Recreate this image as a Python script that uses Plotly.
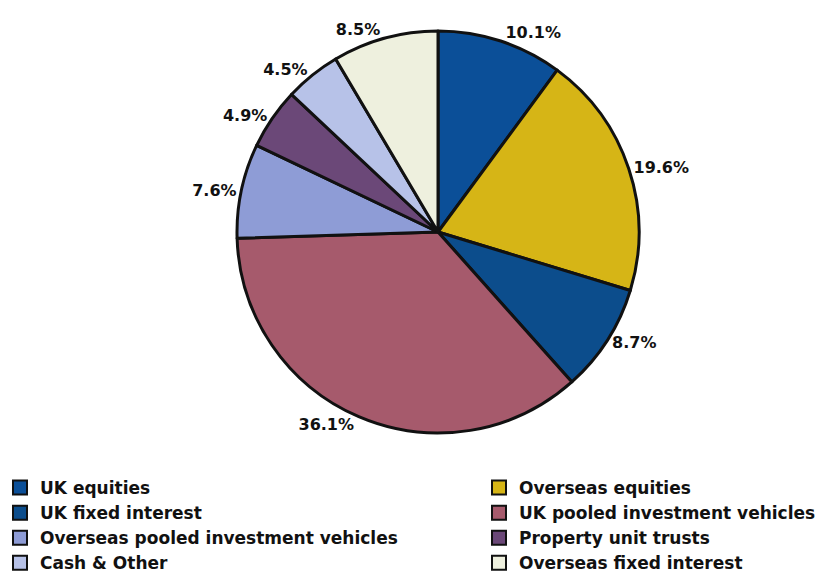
import plotly.graph_objects as go

categories = ["UK equities", "Overseas equities", "UK fixed interest",
              "UK pooled investment vehicles", "Overseas pooled investment vehicles",
              "Property unit trusts", "Cash & Other", "Overseas fixed interest"]
values = [10.1, 19.6, 8.7, 36.1, 7.6, 4.9, 4.5, 8.5]
colors = ["#0b4f98", "#d6b516", "#0c4d8c", "#a65a6c", "#8e9cd6",
          "#6b4878", "#b7c2e8", "#eef0de"]
legend_column = ["legend", "legend2", "legend", "legend2",
                 "legend", "legend2", "legend", "legend2"]

W, H = 823, 574
cx, cy, r = 438, 232, 201
FONT = "DejaVu Sans"

fig = go.Figure(go.Pie(
    labels=categories,
    values=values,
    sort=False,
    direction="clockwise",
    rotation=0,
    marker=dict(colors=colors, line=dict(color="#111111", width=3)),
    texttemplate="%{value:.1f}%",
    textposition="outside",
    textfont=dict(family=FONT, size=16, color="#111111", weight="bold"),
    hoverinfo="label+value",
    showlegend=False,
    domain=dict(x=[(cx - r) / W, (cx + r) / W], y=[1 - (cy + r) / H, 1 - (cy - r) / H]),
))

# legend entries (two columns), one per pie category
for name, col, lg in zip(categories, colors, legend_column):
    fig.add_trace(go.Scatter(
        x=[None], y=[None], mode="markers", name=name, legend=lg,
        marker=dict(symbol="square", size=14, color=col,
                    line=dict(color="#111111", width=2)),
        hoverinfo="skip",
    ))

legend_font = dict(family=FONT, size=17, color="#111111", weight="bold")
legend_top = 1 - 470 / H
fig.update_layout(
    width=W, height=H,
    margin=dict(l=0, r=0, t=0, b=0, autoexpand=False),
    paper_bgcolor="white",
    plot_bgcolor="white",
    xaxis=dict(visible=False),
    yaxis=dict(visible=False),
    legend=dict(x=0.0, y=legend_top, xanchor="left", yanchor="top",
                font=legend_font, itemwidth=30, tracegroupgap=0,
                bgcolor="rgba(0,0,0,0)"),
    legend2=dict(x=479 / W, y=legend_top, xanchor="left", yanchor="top",
                 font=legend_font, itemwidth=30, tracegroupgap=0,
                 bgcolor="rgba(0,0,0,0)"),
)

fig.write_html("out.html")
